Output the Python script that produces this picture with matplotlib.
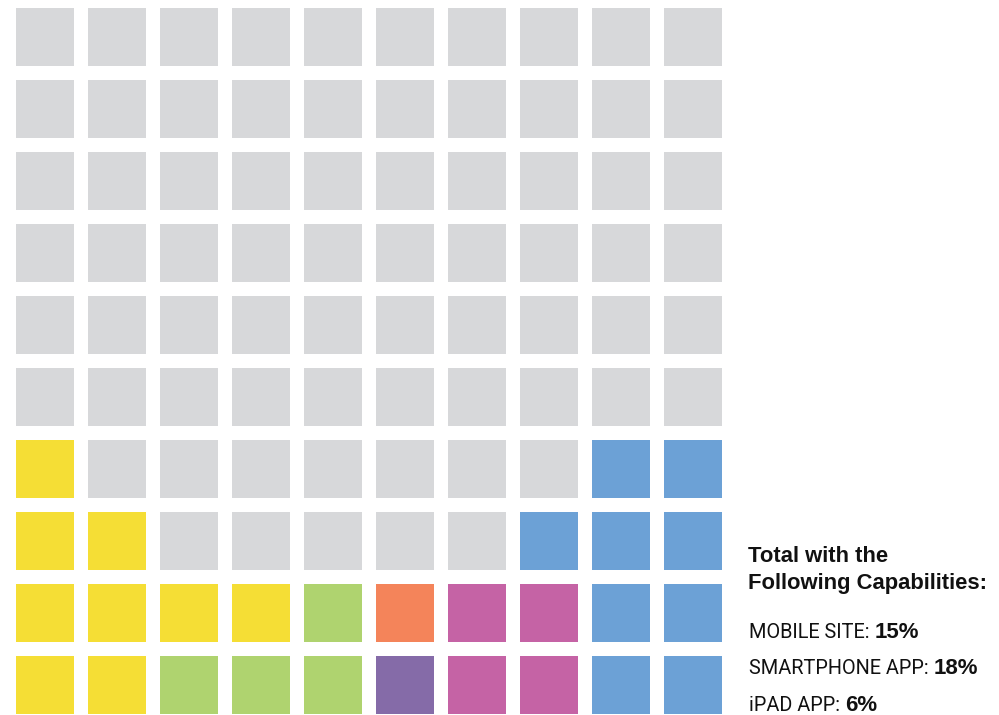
import matplotlib
matplotlib.use("Agg")
import matplotlib.pyplot as plt
from matplotlib.patches import Rectangle

# grid layout, top row first: M=mobile only, S=smartphone only, B=mobile+smartphone,
# O=mobile+iPad, P=smartphone+iPad, A=all three, .=none
grid = [
    "..........",
    "..........",
    "..........",
    "..........",
    "..........",
    "..........",
    "M.......SS",
    "MM.....SSS",
    "MMMMBOPPSS",
    "MMBBBAPPSS",
]
colors = {".": "#d7d8da", "M": "#f5de35", "S": "#6ca1d6", "B": "#afd36f",
          "O": "#f4845a", "P": "#c563a5", "A": "#856ba8"}

title_lines = ["Total with the", "Following Capabilities:"]
labels = ["MOBILE SITE: ", "SMARTPHONE APP: ", "iPAD APP: "]
values = ["15%", "18%", "6%"]

W, H = 999, 715
fig = plt.figure(figsize=(W / 100, H / 100), dpi=100)
ax = fig.add_axes([0, 0, 1, 1])
pitch, size, x0, y0 = 72, 58, 16, 8
ax.set_xlim(-x0 / pitch, (W - x0) / pitch)
ax.set_ylim((H - y0) / pitch, -y0 / pitch)
ax.axis("off")

for r, row in enumerate(grid):
    for c, code in enumerate(row):
        ax.add_patch(Rectangle((c, r), size / pitch, size / pitch,
                               facecolor=colors[code], edgecolor="none"))

bold = ["Liberation Sans", "DejaVu Sans"]
narrow = ["Roboto", "DejaVu Sans"]

for i, t in enumerate(title_lines):
    fig.text(748 / W, 1 - (562 + 27 * i) / H, t, family=bold, weight="bold",
             fontsize=15.8, va="baseline", color="#111111")

fig.canvas.draw()
rend = fig.canvas.get_renderer()

# size the label font so "MOBILE SITE: " spans about the reference width
probe = fig.text(0, 0, labels[0], fontsize=16, family=narrow)
pw = probe.get_window_extent(renderer=rend).width
probe.remove()
lab_fs = min(16.5, 16 * 126 / pw)

for i, (lab, val) in enumerate(zip(labels, values)):
    yb = 1 - (638 + 36.5 * i) / H
    t = fig.text(749 / W, yb, lab, family=narrow, fontsize=lab_fs,
                 va="baseline", color="#111111")
    bb = t.get_window_extent(renderer=rend)
    fig.text(bb.x1 / W, yb, val, family=bold, weight="bold", fontsize=16,
             va="baseline", color="#111111")

fig.savefig("out.png", dpi=100)
